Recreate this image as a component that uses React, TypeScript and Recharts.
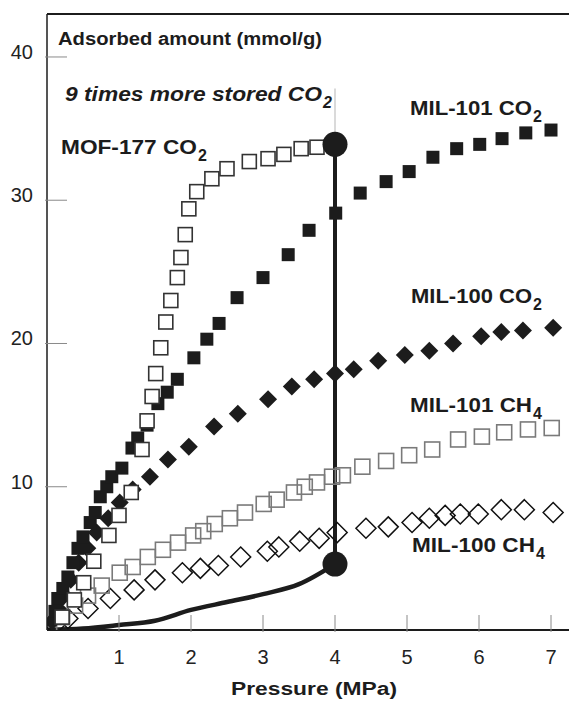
import React from "react";
import {
  ComposedChart,
  XAxis,
  YAxis,
  Scatter,
  Line,
  ReferenceLine,
  Customized,
} from "recharts";

const PRESSURE_TICKS = [1, 2, 3, 4, 5, 6, 7];
const AMOUNT_TICKS = [10, 20, 30, 40];

// MOF-177 CO2 (open squares)
const mof177Co2P = [0.21, 0.38, 0.51, 0.65, 0.86, 1.0, 1.17, 1.32, 1.39, 1.46, 1.51, 1.58, 1.65, 1.72, 1.81, 1.86, 1.92, 1.97, 2.08, 2.29, 2.5, 2.81, 3.07, 3.29, 3.53, 3.75];
const mof177Co2A = [0.9, 2.1, 3.3, 4.8, 6.6, 8.0, 9.6, 12.6, 14.6, 16.3, 17.9, 19.7, 21.5, 23.0, 24.6, 26.0, 27.6, 29.4, 30.6, 31.5, 32.2, 32.7, 32.9, 33.2, 33.6, 33.7];

// MIL-101 CO2 (filled squares)
const mil101Co2P = [0.11, 0.15, 0.22, 0.29, 0.36, 0.43, 0.5, 0.6, 0.67, 0.74, 0.83, 0.9, 1.04, 1.18, 1.26, 1.39, 1.54, 1.67, 1.81, 2.04, 2.22, 2.39, 2.64, 3.0, 3.35, 3.64, 4.01, 4.35, 4.71, 5.03, 5.36, 5.69, 6.01, 6.32, 6.65, 7.0];
const mil101Co2A = [1.3, 2.2, 2.9, 3.7, 4.7, 5.7, 6.5, 7.5, 8.2, 9.3, 10.0, 10.7, 11.3, 12.7, 13.4, 14.3, 15.8, 16.6, 17.5, 19.0, 20.3, 21.4, 23.2, 24.6, 26.2, 27.9, 29.1, 30.5, 31.3, 32.0, 33.0, 33.6, 33.9, 34.3, 34.7, 34.9];

// MIL-100 CO2 (filled diamonds)
const mil100Co2P = [0.07, 0.15, 0.24, 0.33, 0.44, 0.56, 0.69, 0.85, 1.01, 1.19, 1.43, 1.68, 1.97, 2.32, 2.65, 3.07, 3.4, 3.71, 4.0, 4.26, 4.6, 4.97, 5.31, 5.64, 6.03, 6.31, 6.61, 7.03];
const mil100Co2A = [0.6, 1.5, 2.4, 3.5, 4.7, 5.7, 6.8, 7.8, 8.9, 9.8, 10.7, 11.9, 12.8, 14.2, 15.1, 16.1, 17.0, 17.5, 17.9, 18.2, 18.8, 19.2, 19.5, 20.0, 20.5, 20.8, 20.9, 21.1];

// MIL-101 CH4 (grey open squares)
const mil101Ch4P = [0.03, 0.21, 0.39, 0.57, 0.76, 1.01, 1.19, 1.4, 1.61, 1.82, 2.03, 2.17, 2.33, 2.54, 2.75, 3.01, 3.19, 3.43, 3.58, 3.75, 3.96, 4.11, 4.38, 4.71, 5.03, 5.35, 5.71, 6.04, 6.35, 6.68, 7.01];
const mil101Ch4A = [0.35, 0.9, 1.7, 2.4, 3.1, 4.0, 4.4, 5.1, 5.6, 6.1, 6.6, 6.9, 7.4, 7.8, 8.2, 8.8, 9.1, 9.6, 10.0, 10.3, 10.7, 10.8, 11.4, 11.8, 12.2, 12.6, 13.3, 13.5, 13.8, 14.0, 14.1];

// MIL-100 CH4 (open diamonds)
const mil100Ch4P = [0.11, 0.29, 0.57, 0.88, 1.21, 1.5, 1.88, 2.13, 2.38, 2.69, 3.06, 3.22, 3.51, 3.78, 4.03, 4.43, 4.74, 5.07, 5.31, 5.53, 5.74, 5.99, 6.31, 6.63, 7.03];
const mil100Ch4A = [0.35, 0.8, 1.5, 2.2, 2.8, 3.5, 4.0, 4.3, 4.5, 5.1, 5.5, 5.8, 6.2, 6.4, 6.8, 7.1, 7.2, 7.5, 7.8, 8.0, 8.1, 8.1, 8.4, 8.4, 8.2];

// thick curve (empty vessel) and the 4 MPa comparison
const storedP = [0, 0.5, 1.0, 1.5, 2.0, 2.5, 3.0, 3.5, 4.0];
const storedA = [0, 0.1, 0.35, 0.65, 1.4, 1.95, 2.5, 3.2, 4.6];
const compareP = [4, 4];
const compareA = [4.6, 33.9];
const guideP = [4, 4];
const guideA = [33.9, 37.8];

const zip = (p: number[], a: number[]) => p.map((x, i) => ({ x, y: a[i] }));

const FONT = '"Liberation Sans", Arial, Helvetica, sans-serif';
const INK = "#1c1c1c";

const square = (size: number, fill: string, stroke: string, sw: number) => (props: any) => (
  <rect
    x={props.cx - size / 2}
    y={props.cy - size / 2}
    width={size}
    height={size}
    fill={fill}
    stroke={stroke}
    strokeWidth={sw}
  />
);

const diamond = (half: number, fill: string, stroke: string, sw: number) => (props: any) => {
  const { cx, cy } = props;
  return (
    <polygon
      points={`${cx},${cy - half} ${cx + half},${cy} ${cx},${cy + half} ${cx - half},${cy}`}
      fill={fill}
      stroke={stroke}
      strokeWidth={sw}
    />
  );
};

const dot = (r: number) => (props: any) => <circle cx={props.cx} cy={props.cy} r={r} fill={INK} />;

// ticks point inwards, labels sit outside the frame
const renderXTick = (props: any) => {
  const { x, payload } = props;
  const axisY = props.y - 6;
  return (
    <g>
      <line x1={x} x2={x} y1={axisY} y2={axisY - 17} stroke="#8a8a8a" strokeWidth={1} />
      <text x={x} y={axisY + 32} textAnchor="middle" fontSize={20} fill="#222" fontFamily={FONT}>
        {payload.value}
      </text>
    </g>
  );
};

const renderYTick = (props: any) => {
  const { y, payload } = props;
  const axisX = props.x + 6;
  return (
    <g>
      <line x1={axisX} x2={axisX + 22} y1={y} y2={y} stroke="#8a8a8a" strokeWidth={1} />
      <text x={axisX - 12} y={y + 2} textAnchor="end" fontSize={20} fill="#222" fontFamily={FONT}>
        {payload.value}
      </text>
    </g>
  );
};

const SubLabel = ({ x, y, w, main, sub, italic }: any) => (
  <g fontFamily={FONT} fontWeight="bold" fill={INK} fontStyle={italic ? "italic" : "normal"}>
    <text x={x} y={y} fontSize={21} textLength={w} lengthAdjust="spacingAndGlyphs">
      {main}
    </text>
    <text x={x + w + 1} y={y + 7} fontSize={16}>
      {sub}
    </text>
  </g>
);

const Annotations = () => (
  <g>
    <text x={58} y={45} fontSize={18} fontWeight="bold" fill={INK} fontFamily={FONT} textLength={264} lengthAdjust="spacingAndGlyphs">
      Adsorbed amount (mmol/g)
    </text>
    <SubLabel x={65} y={101} w={257} main="9 times more stored CO" sub="2" italic />
    <SubLabel x={61} y={154} w={136} main="MOF-177 CO" sub="2" />
    <SubLabel x={410} y={115} w={122} main="MIL-101 CO" sub="2" />
    <SubLabel x={411} y={303} w={121} main="MIL-100 CO" sub="2" />
    <SubLabel x={410} y={412} w={122} main="MIL-101 CH" sub="4" />
    <SubLabel x={412} y={552} w={123} main="MIL-100 CH" sub="4" />
    <text x={231} y={695} fontSize={18} fontWeight="bold" fill={INK} fontFamily={FONT} textLength={166} lengthAdjust="spacingAndGlyphs">
      Pressure (MPa)
    </text>
  </g>
);

export default function App() {
  return (
    <div style={{ width: 569, height: 701, background: "#fff" }}>
      <style>{"body{margin:0}"}</style>
      <ComposedChart width={569} height={701} margin={{ top: 14, right: 0, bottom: 41, left: 17 }}>
        <XAxis
          type="number"
          dataKey="x"
          domain={[0, 7.25]}
          ticks={PRESSURE_TICKS}
          interval={0}
          allowDataOverflow
          height={30}
          tickLine={false}
          tick={renderXTick}
          axisLine={{ stroke: INK, strokeWidth: 2 }}
        />
        <YAxis
          type="number"
          dataKey="y"
          domain={[0, 43]}
          ticks={AMOUNT_TICKS}
          interval={0}
          allowDataOverflow
          width={30}
          tickLine={false}
          tick={renderYTick}
          axisLine={{ stroke: INK, strokeWidth: 1.5 }}
        />
        <ReferenceLine y={43} stroke={INK} strokeWidth={2} />

        <Scatter data={zip(mil100Ch4P, mil100Ch4A)} shape={diamond(10, "none", "#111", 1.5)} isAnimationActive={false} />
        <Scatter data={zip(mil101Ch4P, mil101Ch4A)} shape={square(15, "none", "#7a7a7a", 1.6)} isAnimationActive={false} />
        <Scatter data={zip(mil100Co2P, mil100Co2A)} shape={diamond(9, INK, INK, 0)} isAnimationActive={false} />
        <Scatter data={zip(mil101Co2P, mil101Co2A)} shape={square(13, INK, INK, 0)} isAnimationActive={false} />
        <Scatter data={zip(mof177Co2P, mof177Co2A)} shape={square(14, "#fff", "#333", 1.6)} isAnimationActive={false} />

        <Line data={zip(guideP, guideA)} dataKey="y" type="linear" stroke="#b5b5b5" strokeWidth={1} dot={false} isAnimationActive={false} />
        <Line data={zip(storedP, storedA)} dataKey="y" type="monotone" stroke={INK} strokeWidth={4.5} dot={false} isAnimationActive={false} />
        <Line data={zip(compareP, compareA)} dataKey="y" type="linear" stroke={INK} strokeWidth={4} dot={false} isAnimationActive={false} />
        <Scatter data={zip(compareP, compareA)} shape={dot(12.5)} isAnimationActive={false} />

        <Customized component={Annotations} />
      </ComposedChart>
    </div>
  );
}
